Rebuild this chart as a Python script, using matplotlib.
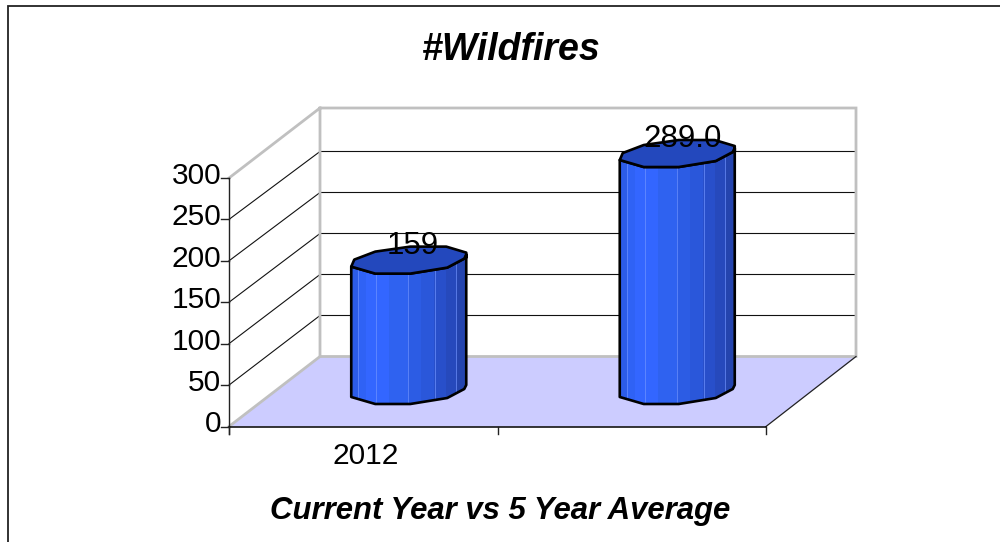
import matplotlib
matplotlib.use("Agg")
import matplotlib.pyplot as plt
from matplotlib.patches import Polygon

categories = ["2012", ""]
values = [159, 289.0]
value_labels = ["159", "289.0"]
y_ticks = [0, 50, 100, 150, 200, 250, 300]
title = "#Wildfires"
xlabel = "Current Year vs 5 Year Average"

plt.rcParams["font.family"] = ["Liberation Sans", "DejaVu Sans"]
fig = plt.figure(figsize=(10, 5.42), dpi=100, facecolor="white")
ax = fig.add_axes([0, 0, 1, 1])
ax.set_xlim(0, 1000)
ax.set_ylim(542, 0)
ax.axis("off")

# Oblique projection
X0, X1, Y0, YMAX, VMAX = 229, 766, 426.5, 178, 300
DX, DY = 91, -70
BACK_K = 0.82
GRAY, BLK = "#c0c0c0", "#000000"
TXT = 21.5


def vy(v):
    return Y0 - (Y0 - YMAX) * v / VMAX


# Outer frame: left and top only, the top runs to the picture's edge
ax.plot([8, 8, 1000], [542, 5.5, 5.5], color="#222222", lw=1.3, solid_joinstyle="miter")

# Floor
ax.add_patch(Polygon([(X0, Y0), (X0 + DX, Y0 + DY), (X1 + DX, Y0 + DY), (X1, Y0)],
                     closed=True, fc="#ccccff", ec="none", zorder=1))
# Grid lines
for t in y_ticks[1:-1]:
    y = vy(t)
    yb = Y0 + DY - t * BACK_K
    ax.plot([X0, X0 + DX, X1 + DX - 1], [y, yb, yb], color="#111111", lw=0.8, zorder=2)
# Walls' gray borders
top = vy(VMAX)
ax.plot([X0, X0 + DX, X1 + DX - 1, X1 + DX - 1, X0 + DX, X0 + DX],
        [top, top + DY, top + DY, Y0 + DY, Y0 + DY, top + DY],
        color=GRAY, lw=2, zorder=3, solid_joinstyle="miter")
ax.plot([X0, X0 + DX], [Y0, Y0 + DY], color=GRAY, lw=2, zorder=3)
ax.plot([X1, X1 + DX - 1], [Y0, Y0 + DY], color="#222222", lw=0.9, zorder=3)

# Axes and ticks
ax.plot([X0, X0], [top, Y0 + 7], color="#222222", lw=1, zorder=4)
ax.plot([X0, X1], [Y0, Y0], color=BLK, lw=1.1, zorder=4)
for t in y_ticks:
    ax.plot([X0 - 8, X0], [vy(t), vy(t)], color="#222222", lw=1, zorder=4)
    ax.text(X0 - 8, vy(t) - 2, str(t), ha="right", va="center", fontsize=TXT, color=BLK, zorder=5)
slot = (X1 - X0) / len(categories)
for i in range(len(categories) + 1):
    x = X0 + i * slot
    ax.plot([x, x], [Y0, Y0 + 7], color="#222222", lw=1, zorder=4)

# Bars: faceted cylinders
BASE = 404
BAR_K = 0.82
front_dx = [0, 24, 59, 96, 113, 115]
front_dy = [-7, 0, 0, -6, -15, -19]
top_back = [(0, -7), (3, -14), (24, -22), (59, -27), (95, -27), (115, -21), (115, -16)]
strip_edges = [0, 7, 15, 38, 57, 70, 83, 95, 105, 115]
strip_cols = ["#2c5ce8", "#2f62f5", "#3366ff", "#2f62f0", "#2c5ce4",
              "#2a57da", "#284fca", "#2649bc", "#2444ae"]
light_x = [7, 25, 57, 84, 105]

for i, (v, cat, lab) in enumerate(zip(values, categories, value_labels)):
    cx = X0 + (i + 0.5) * slot
    L = cx - 12
    T = BASE - v * BAR_K
    body = [(L + d, T + e) for d, e in zip(front_dx, front_dy)] + \
           [(L + d, BASE + e) for d, e in zip(front_dx[::-1], front_dy[::-1])]
    clip = Polygon(body, closed=True, fc="none", ec="none", transform=ax.transData)
    ax.add_patch(clip)
    for a, b, c in zip(strip_edges[:-1], strip_edges[1:], strip_cols):
        s, = ax.fill([L + a, L + b + 0.5, L + b + 0.5, L + a], [T - 40, T - 40, BASE + 5, BASE + 5],
                     color=c, lw=0, zorder=6)
        s.set_clip_path(clip)
    for lx in light_x:
        s, = ax.plot([L + lx, L + lx], [T - 40, BASE + 5], color="#6f93ff", lw=0.6, alpha=0.8, zorder=7)
        s.set_clip_path(clip)
    ax.add_patch(Polygon(body, closed=True, fc="none", ec=BLK, lw=1.9, zorder=8, joinstyle="round"))
    cap = [(L + d, T + e) for d, e in zip(front_dx, front_dy)] + \
          [(L + d, T + e) for d, e in top_back[::-1]]
    ax.add_patch(Polygon(cap, closed=True, fc="#2348bd", ec=BLK, lw=1.9, zorder=9, joinstyle="round"))
    ax.text(L + 61 + (2 if len(lab) > 3 else 0), T - 20, lab, ha="center", va="baseline",
            fontsize=TXT + 1, color=BLK, zorder=10)
    if cat:
        ax.text(cx + 2, 456, cat, ha="center", va="center", fontsize=TXT, color=BLK, zorder=5)

ax.text(511, 50, title, ha="center", va="center", fontsize=27, fontweight="bold",
        fontstyle="italic", color=BLK)
ax.text(500, 511, xlabel, ha="center", va="center", fontsize=22.4, fontweight="bold",
        fontstyle="italic", color=BLK)

fig.savefig("out.png", dpi=100, facecolor="white")
